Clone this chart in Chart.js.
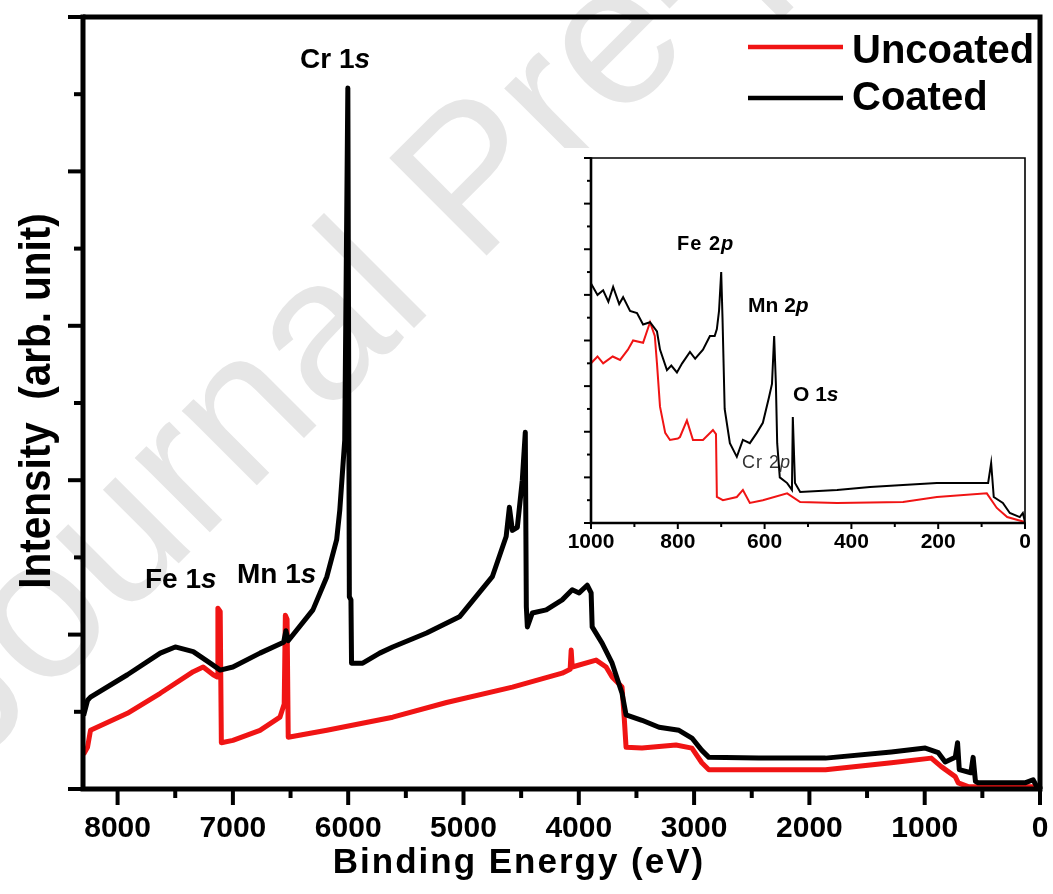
<!DOCTYPE html>
<html>
<head>
<meta charset="utf-8">
<script src="https://cdn.jsdelivr.net/npm/chart.js@4.4.1/dist/chart.umd.min.js"></script>
<style>
  html, body { margin: 0; padding: 0; background: #fff; }
  #wrap { position: relative; width: 1053px; height: 894px; overflow: hidden; }
  #mainChart { position: absolute; left: 0; top: 0; }
  #insetChart { position: absolute; left: 555px; top: 148px; background: #fff; }
</style>
</head>
<body>
<div id="wrap">
  <canvas id="mainChart" width="1053" height="894"></canvas>
  <canvas id="insetChart" width="480" height="412"></canvas>
</div>
<script>
// survey spectra (binding energy in eV, intensity in arb. unit)
const coatedX = [8295, 8260, 8235, 7915, 7630, 7500, 7344, 7197, 7110, 7000, 6765, 6560, 6540, 6520, 6306, 6185,
  6100, 6073, 6030, 6003, 5990, 5976, 5971, 5874, 5727, 5614, 5320, 5035, 4750, 4630, 4602, 4576, 4533, 4490,
  4464, 4455, 4446, 4403, 4282, 4144, 4057, 3997, 3927, 3893, 3884, 3798, 3711, 3625, 3590, 3452, 3304, 3131,
  3019, 2933, 2872, 2439, 1860, 1289, 995, 882, 822, 735, 715, 700, 600, 580, 560, 536, 130, 60, 17];
const coatedY = [0.95, 1.15, 1.19, 1.48, 1.76, 1.84, 1.78, 1.63, 1.54, 1.58, 1.76, 1.9, 2.05, 1.92, 2.32, 2.75,
  3.23, 3.61, 4.52, 9.08, 2.49, 2.45, 1.63, 1.63, 1.76, 1.84, 2.02, 2.23, 2.75, 3.27, 3.65, 3.35, 3.39, 4.0,
  4.62, 2.36, 2.1, 2.28, 2.32, 2.45, 2.58, 2.54, 2.64, 2.54, 2.1, 1.89, 1.63, 1.24, 0.96, 0.89, 0.8, 0.76,
  0.66, 0.5, 0.41, 0.4, 0.4, 0.48, 0.53, 0.47, 0.35, 0.41, 0.6, 0.25, 0.21, 0.41, 0.1, 0.08, 0.08, 0.12, 0.0];

const uncoatedX = [8295, 8261, 8235, 7915, 7630, 7344, 7258, 7171, 7135, 7130, 7110, 7100, 7000, 6765, 6592,
  6555, 6545, 6530, 6520, 6185, 5614, 5147, 4576, 4144, 4075, 4066, 4057, 3850, 3763, 3711, 3625, 3605, 3590,
  3452, 3157, 3019, 2933, 2872, 1860, 1289, 943, 856, 735, 709, 623, 17];
const uncoatedY = [0.45, 0.54, 0.76, 0.98, 1.24, 1.52, 1.58, 1.48, 1.45, 2.34, 2.3, 0.6, 0.63, 0.76, 0.93,
  1.1, 2.25, 2.2, 0.67, 0.76, 0.93, 1.12, 1.32, 1.5, 1.55, 1.8, 1.58, 1.67, 1.58, 1.45, 1.32, 0.9, 0.54,
  0.53, 0.57, 0.53, 0.34, 0.25, 0.25, 0.34, 0.4, 0.29, 0.16, 0.08, 0.03, 0.03];

// inset: 1000-0 eV region
const insetCoatedX = [1000, 985, 972, 960, 949, 935, 926, 910, 894, 880, 864, 848, 841, 825, 815, 802, 790, 772,
  760, 742, 726, 715, 710, 705, 700, 697, 692, 680, 664, 650, 634, 618, 604, 590, 583, 578, 574, 571, 565, 548,
  537, 535, 530, 518, 433, 357, 281, 203, 127, 85, 78, 72, 51, 35, 12, 5, 0];
const insetCoatedY = [10.5, 10.0, 10.2, 9.7, 10.35, 9.6, 9.9, 9.3, 9.2, 8.7, 8.8, 8.4, 7.6, 6.7, 6.9, 6.6, 7.0,
  7.5, 7.2, 7.6, 8.2, 8.2, 8.5, 9.3, 11.0, 9.0, 5.0, 3.5, 2.9, 3.64, 3.5, 3.95, 4.39, 5.5, 6.1, 8.2, 6.1, 3.5,
  2.0, 1.75, 1.45, 4.65, 1.75, 1.36, 1.45, 1.58, 1.67, 1.75, 1.75, 1.75, 2.63, 1.14, 0.88, 0.44, 0.26, 0.44, 0.04];

const insetUncoatedX = [1000, 985, 972, 950, 933, 915, 903, 880, 864, 853, 848, 841, 829, 818, 800, 795, 779,
  765, 742, 719, 712, 710, 696, 664, 650, 634, 604, 548, 518, 433, 281, 203, 88, 65, 41, 0];
const insetUncoatedY = [7.0, 7.3, 7.0, 7.3, 7.15, 7.6, 8.0, 7.9, 8.8, 8.2, 7.0, 5.1, 3.95, 3.64, 3.7, 3.77, 4.5,
  3.64, 3.64, 4.08, 3.9, 1.14, 1.0, 1.14, 1.45, 0.88, 1.0, 1.3, 0.92, 0.88, 0.92, 1.14, 1.3, 0.66, 0.26, 0.04];

// tick positions (minor + major) and the labelled ones
const mainTickValues = [0, 500, 1000, 1500, 2000, 2500, 3000, 3500, 4000, 4500, 5000, 5500, 6000, 6500, 7000,
  7500, 8000];
const mainTickLabels = [0, 1000, 2000, 3000, 4000, 5000, 6000, 7000, 8000];
const insetTickLabels = [0, 200, 400, 600, 800, 1000];

const FONT = '"Liberation Sans", Arial, sans-serif';
const RED = '#f01414';

function toPoints(xs, ys) {
  return xs.map((x, i) => ({ x: x, y: ys[i] }));
}

// draws text made of pieces, some italic (e.g. "Cr 1" + italic "s")
function drawParts(ctx, x, y, parts, size, weight, spacing) {
  ctx.letterSpacing = (spacing || 0) + 'px';
  parts.forEach(p => {
    ctx.font = (p.italic ? 'italic ' : '') + weight + ' ' + size + 'px ' + FONT;
    ctx.fillText(p.t, x, y);
    x += ctx.measureText(p.t).width;
  });
  ctx.letterSpacing = '0px';
}

// frame + major/minor tick marks
function framePlugin(o) {
  return {
    id: 'frame',
    afterDraw(chart) {
      const ctx = chart.ctx, a = chart.chartArea;
      const xs = chart.scales.x, ys = chart.scales.y;
      ctx.save();
      ctx.strokeStyle = '#000';
      ctx.lineWidth = o.tickWidth;
      xs.ticks.forEach(t => {
        const px = xs.getPixelForValue(t.value);
        const len = t.value % o.xMajor === 0 ? o.xMajorLen : o.xMinorLen;
        ctx.beginPath();
        ctx.moveTo(px, a.bottom);
        ctx.lineTo(px, a.bottom + len);
        ctx.stroke();
      });
      ys.ticks.forEach(t => {
        const py = ys.getPixelForValue(t.value);
        const len = t.value % o.yMajor === 0 ? o.yMajorLen : o.yMinorLen;
        ctx.beginPath();
        ctx.moveTo(a.left, py);
        ctx.lineTo(a.left - len, py);
        ctx.stroke();
      });
      // top and right
      ctx.lineWidth = o.boxWidth;
      ctx.beginPath();
      ctx.moveTo(a.left, a.top);
      ctx.lineTo(a.right, a.top);
      ctx.lineTo(a.right, a.bottom);
      ctx.stroke();
      // left and bottom axes
      ctx.lineWidth = o.axisWidth;
      ctx.beginPath();
      ctx.moveTo(a.left, a.top - o.boxWidth / 2);
      ctx.lineTo(a.left, a.bottom);
      ctx.lineTo(a.right + o.boxWidth / 2, a.bottom);
      ctx.stroke();
      ctx.restore();
    }
  };
}

const watermark = {
  id: 'watermark',
  beforeDraw(chart) {
    const ctx = chart.ctx;
    ctx.save();
    ctx.translate(-28, 770);
    ctx.rotate(-45 * Math.PI / 180);
    ctx.font = '200px ' + FONT;
    ctx.fillStyle = '#e6e6e6';
    ctx.fillText('Journal Pre-proof', 0, 0);
    ctx.restore();
  }
};

const mainText = {
  id: 'mainText',
  afterDraw(chart) {
    const ctx = chart.ctx;
    ctx.save();
    ctx.fillStyle = '#000';
    ctx.textBaseline = 'alphabetic';
    ctx.textAlign = 'left';
    drawParts(ctx, 300, 68, [{ t: 'Cr 1' }, { t: 's', italic: true }], 28, 'bold');
    drawParts(ctx, 145, 588, [{ t: 'Fe 1' }, { t: 's', italic: true }], 28, 'bold');
    drawParts(ctx, 237, 583, [{ t: 'Mn 1' }, { t: 's', italic: true }], 28, 'bold');

    // legend
    ctx.lineWidth = 4.5;
    ctx.strokeStyle = RED;
    ctx.beginPath(); ctx.moveTo(748, 47); ctx.lineTo(843, 47); ctx.stroke();
    ctx.strokeStyle = '#000';
    ctx.beginPath(); ctx.moveTo(748, 98); ctx.lineTo(843, 98); ctx.stroke();
    drawParts(ctx, 852, 63, [{ t: 'Uncoated' }], 40, 'bold');
    drawParts(ctx, 852, 110, [{ t: 'Coated' }], 40, 'bold');

    // axis titles
    ctx.textAlign = 'center';
    ctx.letterSpacing = '2px';
    ctx.font = 'bold 35px ' + FONT;
    ctx.fillText('Binding Energy (eV)', 519, 873);
    ctx.letterSpacing = '0px';
    ctx.save();
    ctx.translate(50, 401);
    ctx.rotate(-Math.PI / 2);
    ctx.scale(0.92, 1);
    ctx.font = 'bold 44px ' + FONT;
    ctx.fillText('Intensity  (arb. unit)', 0, 0);
    ctx.restore();
    ctx.restore();
  }
};

const insetText = {
  id: 'insetText',
  afterDraw(chart) {
    const ctx = chart.ctx;
    ctx.save();
    ctx.fillStyle = '#000';
    ctx.textAlign = 'left';
    drawParts(ctx, 122, 102, [{ t: 'Fe 2' }, { t: 'p', italic: true }], 20, 'bold', 1);
    drawParts(ctx, 193, 164, [{ t: 'Mn 2' }, { t: 'p', italic: true }], 21, 'bold');
    drawParts(ctx, 238, 253, [{ t: 'O 1' }, { t: 's', italic: true }], 21, 'bold');
    ctx.fillStyle = '#333';
    drawParts(ctx, 187, 320, [{ t: 'Cr 2' }, { t: 'p', italic: true }], 18, 'normal', 1);
    ctx.restore();
  }
};

// fixed axis boxes so the plot area lands where the reference has it
function fixSize(w, h) {
  return scale => {
    if (scale.isHorizontal()) scale.height = h; else scale.width = w;
    scale.paddingLeft = 0;
    scale.paddingRight = 0;
    scale.paddingTop = 0;
    scale.paddingBottom = 0;
  };
}

new Chart(document.getElementById('mainChart'), {
  type: 'line',
  data: {
    datasets: [
      { label: 'Coated', data: toPoints(coatedX, coatedY), borderColor: '#000', borderWidth: 5 },
      { label: 'Uncoated', data: toPoints(uncoatedX, uncoatedY), borderColor: RED, borderWidth: 5 }
    ]
  },
  options: {
    responsive: false,
    animation: false,
    events: [],
    elements: { point: { radius: 0 }, line: { tension: 0, borderJoinStyle: 'round' } },
    layout: { autoPadding: false, padding: { left: 0, top: 17, right: 13, bottom: 0 } },
    plugins: { legend: { display: false }, tooltip: { enabled: false } },
    scales: {
      x: {
        type: 'linear', min: 0, max: 8300, reverse: true,
        afterBuildTicks: scale => { scale.ticks = mainTickValues.map(v => ({ value: v })); },
        afterFit: fixSize(83, 105),
        border: { display: false },
        grid: { display: false, drawTicks: false },
        ticks: {
          autoSkip: false, maxRotation: 0, padding: 22,
          color: '#000', font: { family: FONT, size: 30, weight: 'bold' },
          callback: v => mainTickLabels.includes(v) ? String(v) : ''
        }
      },
      y: {
        type: 'linear', min: 0, max: 10,
        afterFit: fixSize(83, 105),
        border: { display: false },
        grid: { display: false, drawTicks: false },
        ticks: { stepSize: 1, display: false }
      }
    }
  },
  plugins: [watermark, framePlugin({
    tickWidth: 4, xMajor: 1000, xMajorLen: 16, xMinorLen: 9,
    yMajor: 2, yMajorLen: 15, yMinorLen: 9, boxWidth: 5, axisWidth: 5
  }), mainText]
});

new Chart(document.getElementById('insetChart'), {
  type: 'line',
  data: {
    datasets: [
      { label: 'Coated', data: toPoints(insetCoatedX, insetCoatedY), borderColor: '#000', borderWidth: 2 },
      { label: 'Uncoated', data: toPoints(insetUncoatedX, insetUncoatedY), borderColor: RED, borderWidth: 2 }
    ]
  },
  options: {
    responsive: false,
    animation: false,
    events: [],
    elements: { point: { radius: 0 }, line: { tension: 0 } },
    layout: { autoPadding: false, padding: { left: 0, top: 10, right: 10, bottom: 0 } },
    plugins: { legend: { display: false }, tooltip: { enabled: false } },
    scales: {
      x: {
        type: 'linear', min: 0, max: 1000, reverse: true,
        afterFit: fixSize(36, 37),
        border: { display: false },
        grid: { display: false, drawTicks: false },
        ticks: {
          stepSize: 100, includeBounds: false, autoSkip: false, maxRotation: 0, padding: 7,
          color: '#000', font: { family: FONT, size: 21, weight: 'bold' },
          callback: v => insetTickLabels.includes(v) ? String(v) : ''
        }
      },
      y: {
        type: 'linear', min: 0, max: 16,
        afterFit: fixSize(36, 37),
        border: { display: false },
        grid: { display: false, drawTicks: false },
        ticks: { stepSize: 1, display: false }
      }
    }
  },
  plugins: [framePlugin({
    tickWidth: 2, xMajor: 200, xMajorLen: 6, xMinorLen: 4,
    yMajor: 2, yMajorLen: 7, yMinorLen: 4, boxWidth: 1.6, axisWidth: 2.6
  }), insetText]
});
</script>
</body>
</html>
